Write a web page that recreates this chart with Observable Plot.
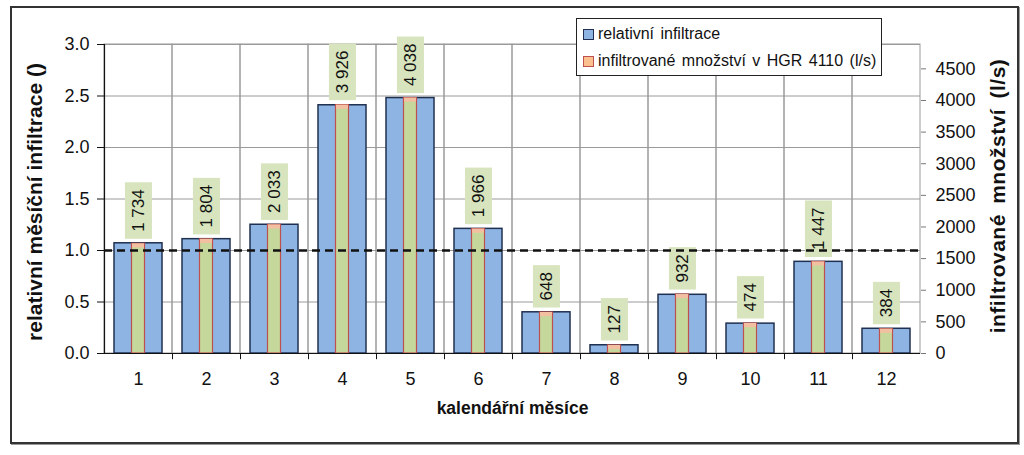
<!DOCTYPE html>
<html>
<head>
<meta charset="utf-8">
<script src="https://cdn.jsdelivr.net/npm/d3@7"></script>
<script src="https://cdn.jsdelivr.net/npm/@observablehq/plot@0.6"></script>
<style>
  html, body { margin: 0; padding: 0; background: #fff; }
  body { width: 1024px; height: 455px; position: relative; overflow: hidden; font-family: "Liberation Sans", Arial, sans-serif; }
  #chart { position: absolute; left: 0; top: 0; }
  #border { position: absolute; left: 10px; top: 6px; width: 1005px; height: 434px; border: 2px solid #333; box-shadow: 1px 1px 0 #999; }
  #legend { position: absolute; left: 576px; top: 18px; width: 304px; height: 56px; border: 1.5px solid #222; background: #fff; font-size: 16px; color: #111; word-spacing: 2px; }
  #legend .row { position: absolute; left: 6px; display: flex; align-items: center; white-space: nowrap; }
  #legend .sw { width: 9px; height: 9px; margin-right: 4px; border: 1.5px solid #1f3050; }
</style>
</head>
<body>
<div id="border"></div>
<div id="chart"></div>
<div id="legend">
  <div class="row" style="top:6px"><span class="sw" style="background:#8eb4e3;border-color:#1f3050"></span><span>relativní infiltrace</span></div>
  <div class="row" style="top:33px"><span class="sw" style="background:#fac090;border-color:#c0504d"></span><span>infiltrované množství v HGR 4110 (l/s)</span></div>
</div>
<script>
// ---- data ----
const months = [1, 2, 3, 4, 5, 6, 7, 8, 9, 10, 11, 12];
const relative = [1.07, 1.11, 1.25, 2.41, 2.48, 1.21, 0.40, 0.08, 0.57, 0.29, 0.89, 0.24];
const amount = [1734, 1804, 2033, 3926, 4038, 1966, 648, 127, 932, 474, 1447, 384];
const leftTicks = [0, 0.5, 1.0, 1.5, 2.0, 2.5, 3.0];
const rightTicks = [0, 500, 1000, 1500, 2000, 2500, 3000, 3500, 4000, 4500];
const leftMax = 3.0;
const rightMax = 4885;       // right-axis value aligned with the top of the left axis (3.0)
const referenceLevel = 1.0;  // dashed line

const toLeft = v => v * leftMax / rightMax;
const data = months.map((m, i) => ({month: m, rel: relative[i], amt: amount[i]}));
const fmtAmt = v => d3.format(",")(v).replace(/,/g, " ");

const fig = Plot.plot({
  width: 1024,
  height: 455,
  marginLeft: 104,
  marginRight: 104,
  marginTop: 44,
  marginBottom: 102,
  x: {type: "band", domain: months, padding: 0},
  y: {domain: [0, leftMax]},
  style: {fontFamily: "'Liberation Sans', Arial, sans-serif", fontSize: "18px", color: "#111", background: "transparent"},
  marks: [
    // vertical grid (band boundaries)
    Plot.barY(months, {x: d => d, y1: 0, y2: leftMax, fill: "none", stroke: "#9a9a9a", strokeWidth: 1}),
    // horizontal grid
    Plot.ruleY(leftTicks, {stroke: "#9a9a9a", strokeWidth: 1}),
    // left axis line
    Plot.frame({anchor: "left", stroke: "#111", strokeWidth: 1.2}),
    // x ticks at band boundaries
    Plot.ruleX(months.slice(1), {x: d => d, dx: -34, y1: 0, y2: -0.06, stroke: "#111"}),
    // main bars (relative infiltration)
    Plot.barY(data, {x: "month", y: "rel", fill: "#8eb4e3", stroke: "#1f3050", strokeWidth: 1.5, insetLeft: 10, insetRight: 10}),
    // inner bars (infiltrated amount, right axis)
    Plot.barY(data, {x: "month", y: d => toLeft(d.amt), fill: "#c6d79c", stroke: "#c0504d", strokeWidth: 1.2, insetLeft: 27.5, insetRight: 27.5}),
    Plot.barY(data, {x: "month", y1: d => toLeft(d.amt), y2: d => toLeft(d.amt) - 0.04, fill: "#f2c0a0", insetLeft: 28, insetRight: 28}),
    // baseline
    Plot.ruleY([0], {stroke: "#111", strokeWidth: 1.2}),
    // value labels
    Plot.text(data, {x: "month", y: d => toLeft(d.amt), text: d => fmtAmt(d.amt), rotate: -90, textAnchor: "start", dy: -12, fontSize: 17, fill: "#111", className: "amount-labels"}),
    // dashed reference line
    Plot.ruleY([referenceLevel], {stroke: "#111", strokeWidth: 2.5, strokeDasharray: "8,5"}),
    // axes
    Plot.axisY(leftTicks, {anchor: "left", tickFormat: d3.format(".1f"), tickSize: 7, tickPadding: 8, label: null, fontSize: 18}),
    Plot.axisY(rightTicks.map(toLeft), {anchor: "right", tickFormat: d => String(Math.round(d * rightMax / leftMax)), tickSize: 5, tickPadding: 10, stroke: "#777", label: null, fontSize: 18}),
    Plot.axisX({tickSize: 0, tickPadding: 19, label: null, fontSize: 18}),
    // axis titles
    Plot.text(["relativní měsíční infiltrace ()"], {frameAnchor: "left", textAnchor: "middle", dx: -69, dy: 3, rotate: -90, fontSize: 21, fontWeight: "bold", fill: "#111"}),
    Plot.text(["infiltrované množství (l/s)"], {frameAnchor: "right", textAnchor: "middle", dx: 78, dy: -3, rotate: -90, fontSize: 21, fontWeight: "bold", fill: "#111", className: "right-title"}),
    Plot.text(["kalendářní měsíce"], {frameAnchor: "bottom", dy: 60, fontSize: 17.5, fontWeight: "bold", fill: "#111"})
  ]
});
document.getElementById("chart").append(fig);
d3.select(fig).selectAll("g.right-title text").style("word-spacing", "4px").style("letter-spacing", "0.5px");

// light green boxes behind the value labels
d3.select(fig).selectAll("g.amount-labels text").each(function () {
  const b = this.getBBox();
  const r = document.createElementNS("http://www.w3.org/2000/svg", "rect");
  const padL = 7, padH = 4;
  r.setAttribute("x", b.x - padL);
  r.setAttribute("y", b.y - padH);
  r.setAttribute("width", b.width + 2 * padL);
  r.setAttribute("height", b.height + 2 * padH);
  r.setAttribute("fill", "#d7e4bd");
  r.setAttribute("stroke", "none");
  const t = this.getAttribute("transform");
  if (t) r.setAttribute("transform", t);
  this.parentNode.insertBefore(r, this);
});
</script>
</body>
</html>
